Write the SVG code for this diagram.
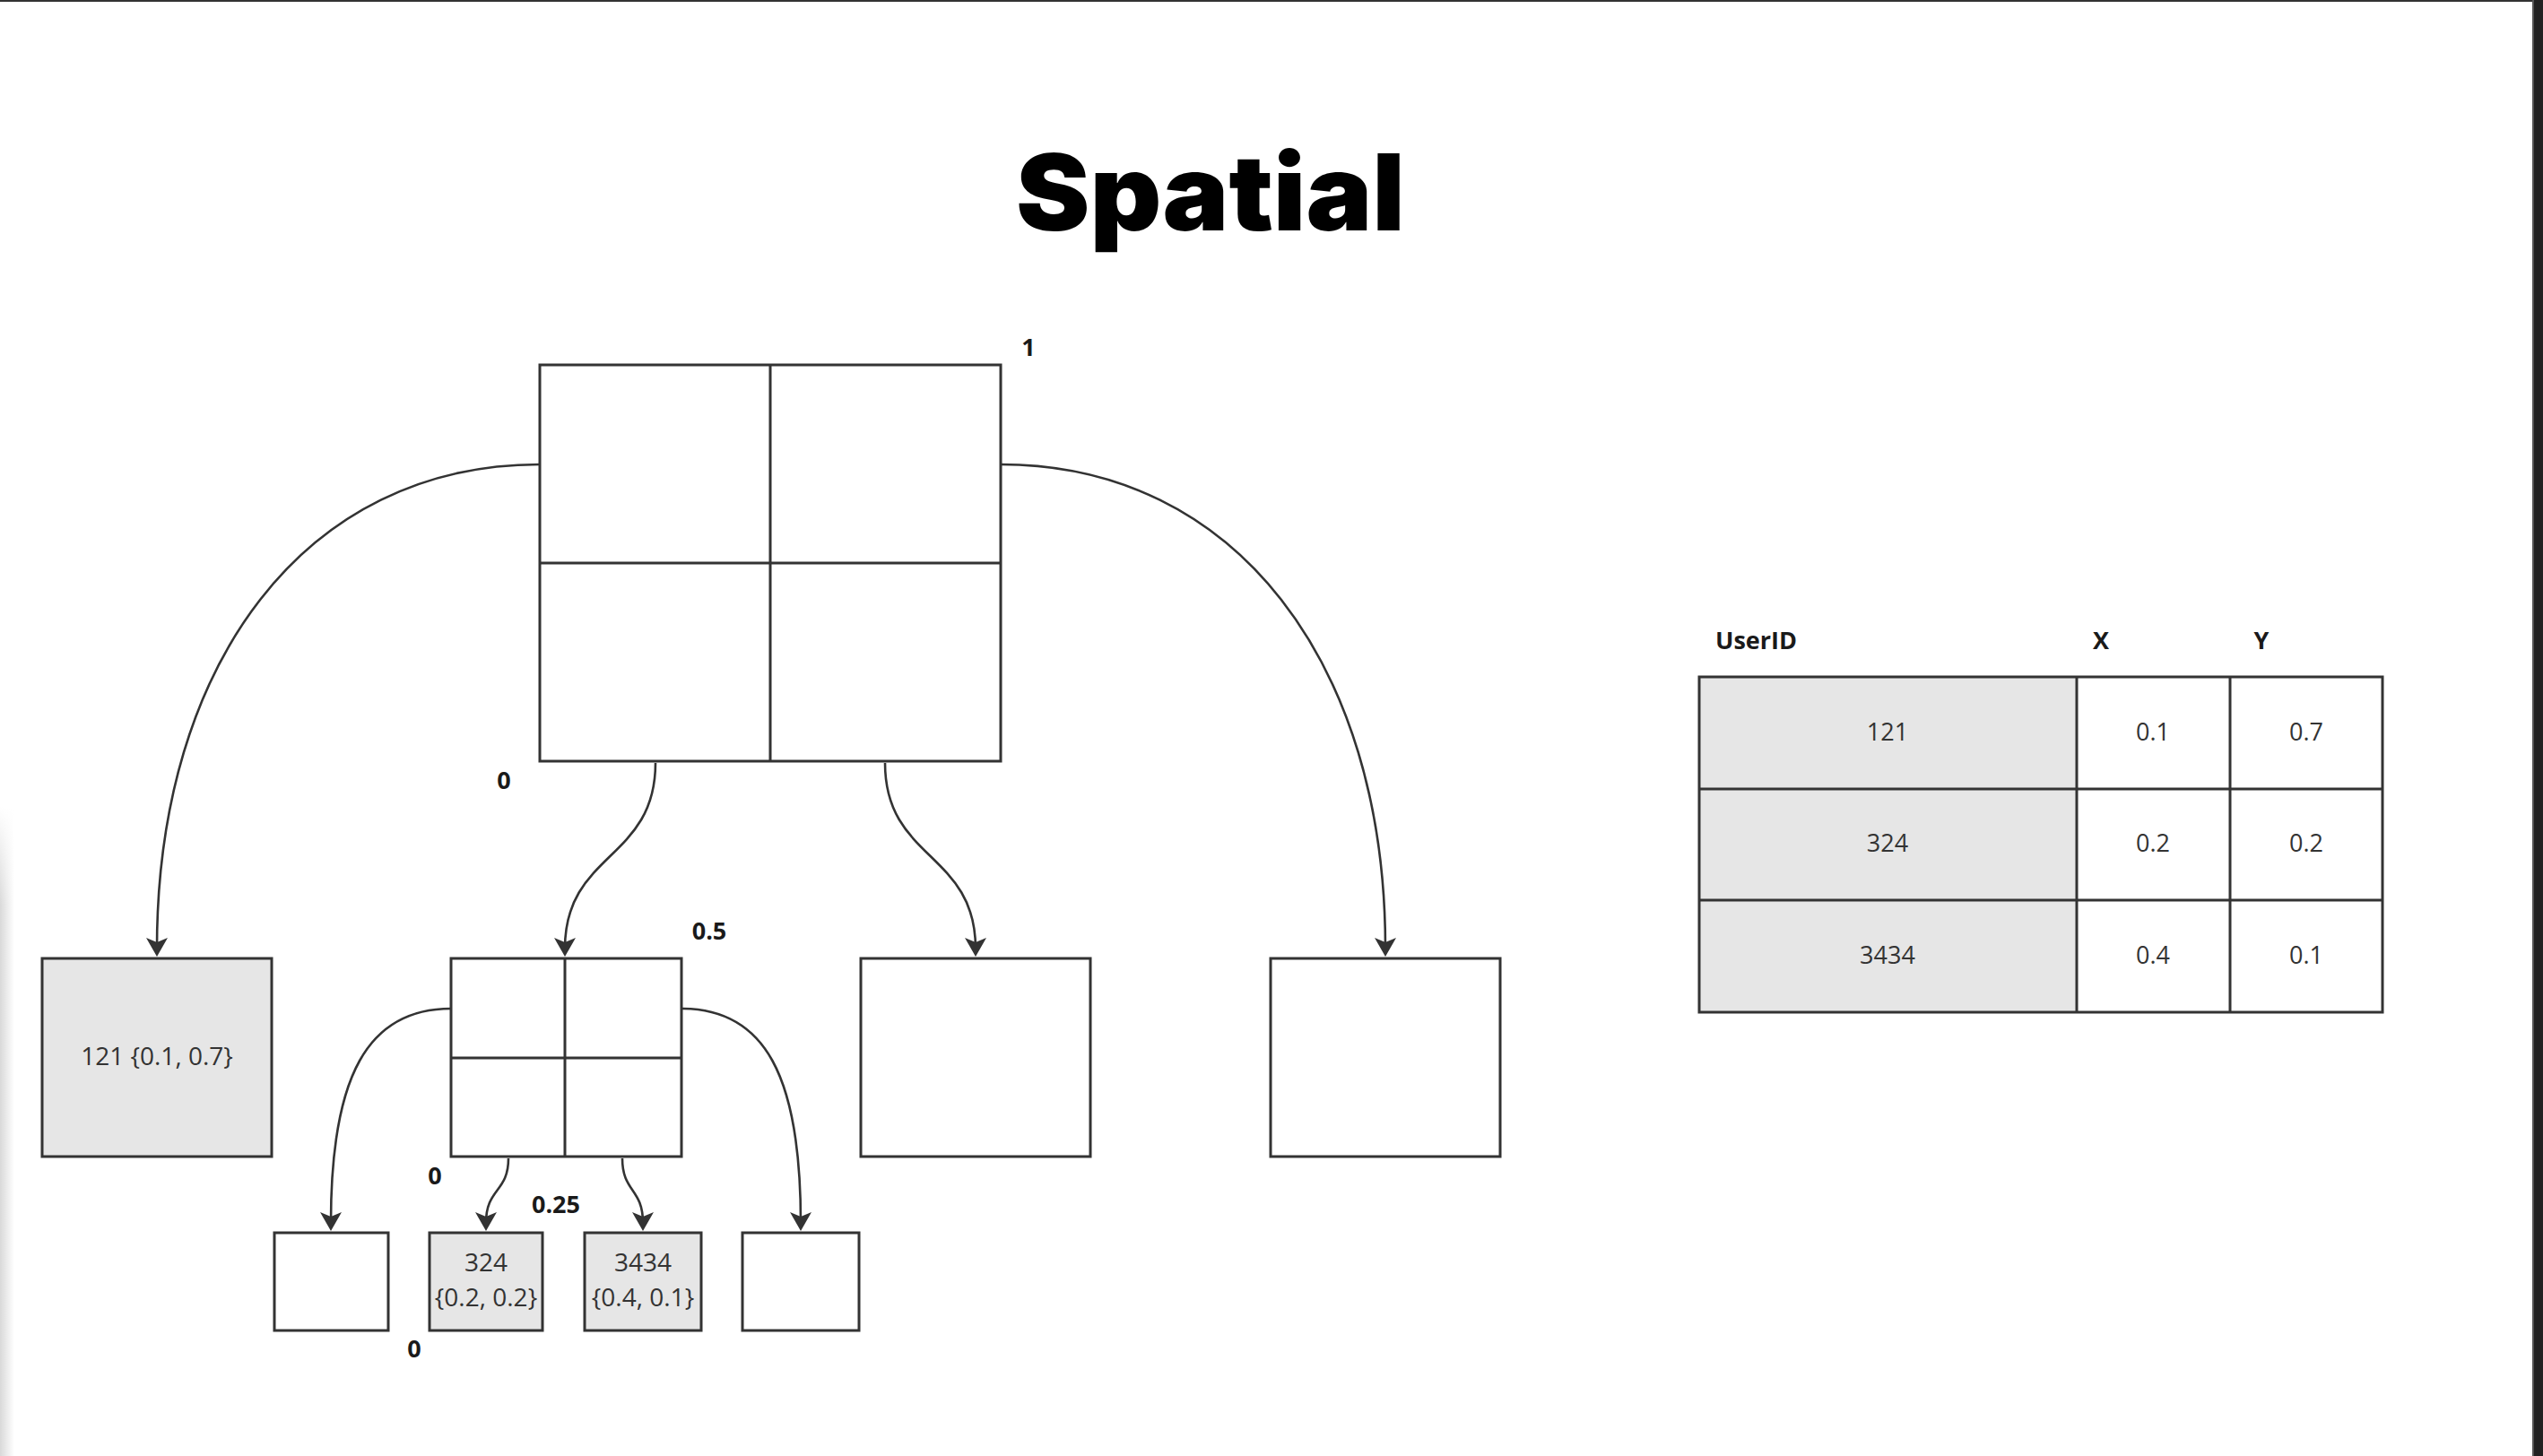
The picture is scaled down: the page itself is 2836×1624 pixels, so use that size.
<svg xmlns="http://www.w3.org/2000/svg" width="2836" height="1624" viewBox="0 0 2836 1624">
<style>
.box{stroke:#333;stroke-width:3;fill:#fff}
.gray{fill:#e6e6e6}
.div{stroke:#333;stroke-width:3;fill:none}
.edge{stroke:#333;stroke-width:2.6;fill:none;marker-end:url(#arr)}
.lbl{font-family:"Open Sans","Noto Sans",sans-serif;font-weight:700;font-size:27px;fill:#1a1a1a}
.txt{font-family:"Open Sans","Noto Sans",sans-serif;font-size:28px;fill:#333;text-anchor:middle}
.cell{font-family:"Open Sans","Noto Sans",sans-serif;font-size:27px;fill:#333;text-anchor:middle}
.grid{stroke:#333;stroke-width:3;fill:none}
</style>
<defs>
<marker id="arr" markerUnits="userSpaceOnUse" viewBox="0 0 21 24" markerWidth="21" markerHeight="24" refX="12" refY="12" orient="auto">
<path d="M0,0 L21,12 L0,24 L5,12 Z" fill="#333"/>
</marker>
<linearGradient id="shadowH" x1="0" y1="0" x2="1" y2="0">
<stop offset="0" stop-color="#d9d9d9"/>
<stop offset="1" stop-color="#ffffff"/>
</linearGradient>
<linearGradient id="shadowV" x1="0" y1="0" x2="0" y2="1">
<stop offset="0" stop-color="#ffffff" stop-opacity="1"/>
<stop offset="1" stop-color="#ffffff" stop-opacity="0"/>
</linearGradient>
</defs>
<rect width="2836" height="1624" fill="#fff"/>
<rect x="0" y="900" width="16" height="724" fill="url(#shadowH)"/>
<rect x="0" y="900" width="16" height="110" fill="url(#shadowV)"/>
<rect x="0" y="0" width="2836" height="2" fill="#333"/>
<rect x="2824" y="0" width="2" height="1624" fill="#555"/>
<rect x="2826" y="0" width="10" height="1624" fill="#222"/>

<text x="1350" y="257" text-anchor="middle" font-family="Inter, 'DejaVu Sans', sans-serif" font-weight="900" font-size="118" textLength="434" lengthAdjust="spacingAndGlyphs" fill="#000">Spatial</text>

<g id="connectors">
<path class="edge" d="M602 518 C340 518, 175 740, 175 1058"/>
<path class="edge" d="M1116 518 C1378 518, 1545 740, 1545 1058"/>
<path class="edge" d="M731 851 C731 960, 630 950, 630 1058"/>
<path class="edge" d="M987 851 C987 960, 1088 950, 1088 1058"/>
<path class="edge" d="M503 1125 C410 1125, 369 1200, 369 1364"/>
<path class="edge" d="M760 1125 C853 1125, 893 1200, 893 1364"/>
<path class="edge" d="M567 1292 C567 1330, 542 1325, 542 1364"/>
<path class="edge" d="M694 1292 C694 1330, 717 1325, 717 1364"/>
</g>

<g id="root-quad">
<rect class="box" x="602" y="407" width="514" height="442"/>
<path class="div" d="M859 407 V849 M602 628 H1116"/>
</g>
<g id="node-121">
<rect class="box gray" x="47" y="1069" width="256" height="221"/>
<text class="txt" x="175" y="1188">121 {0.1, 0.7}</text>
</g>
<g id="mid-quad">
<rect class="box" x="503" y="1069" width="257" height="221"/>
<path class="div" d="M630 1069 V1290 M503 1180 H760"/>
</g>
<g id="node-empty-1">
<rect class="box" x="960" y="1069" width="256" height="221"/>
</g>
<g id="node-empty-2">
<rect class="box" x="1417" y="1069" width="256" height="221"/>
</g>
<g id="leaf-1">
<rect class="box" x="306" y="1375" width="127" height="109"/>
</g>
<g id="leaf-324">
<rect class="box gray" x="479" y="1375" width="126" height="109"/>
<text class="txt" x="542" y="1418">324</text>
<text class="txt" x="542" y="1457">{0.2, 0.2}</text>
</g>
<g id="leaf-3434">
<rect class="box gray" x="652" y="1375" width="130" height="109"/>
<text class="txt" x="717" y="1418">3434</text>
<text class="txt" x="717" y="1457">{0.4, 0.1}</text>
</g>
<g id="leaf-4">
<rect class="box" x="828" y="1375" width="130" height="109"/>
</g>

<g id="labels">
<text class="lbl" x="1147" y="397" text-anchor="middle">1</text>
<text class="lbl" x="562" y="880" text-anchor="middle">0</text>
<text class="lbl" x="791" y="1048" text-anchor="middle">0.5</text>
<text class="lbl" x="485" y="1321" text-anchor="middle">0</text>
<text class="lbl" x="620" y="1353" text-anchor="middle">0.25</text>
<text class="lbl" x="462" y="1514" text-anchor="middle">0</text>
</g>

<g id="table">
<text class="lbl" x="1913" y="724">UserID</text>
<text class="lbl" x="2343" y="724" text-anchor="middle">X</text>
<text class="lbl" x="2522" y="724" text-anchor="middle">Y</text>
<rect x="1895" y="755" width="421" height="374" fill="#e6e6e6"/>
<rect class="grid" x="1895" y="755" width="762" height="374"/>
<path class="grid" d="M2316 755 V1129 M2487 755 V1129 M1895 880 H2657 M1895 1004 H2657"/>
<text class="cell" x="2105" y="826">121</text>
<text class="cell" x="2401" y="826">0.1</text>
<text class="cell" x="2572" y="826">0.7</text>
<text class="cell" x="2105" y="950">324</text>
<text class="cell" x="2401" y="950">0.2</text>
<text class="cell" x="2572" y="950">0.2</text>
<text class="cell" x="2105" y="1075">3434</text>
<text class="cell" x="2401" y="1075">0.4</text>
<text class="cell" x="2572" y="1075">0.1</text>
</g>
</svg>
